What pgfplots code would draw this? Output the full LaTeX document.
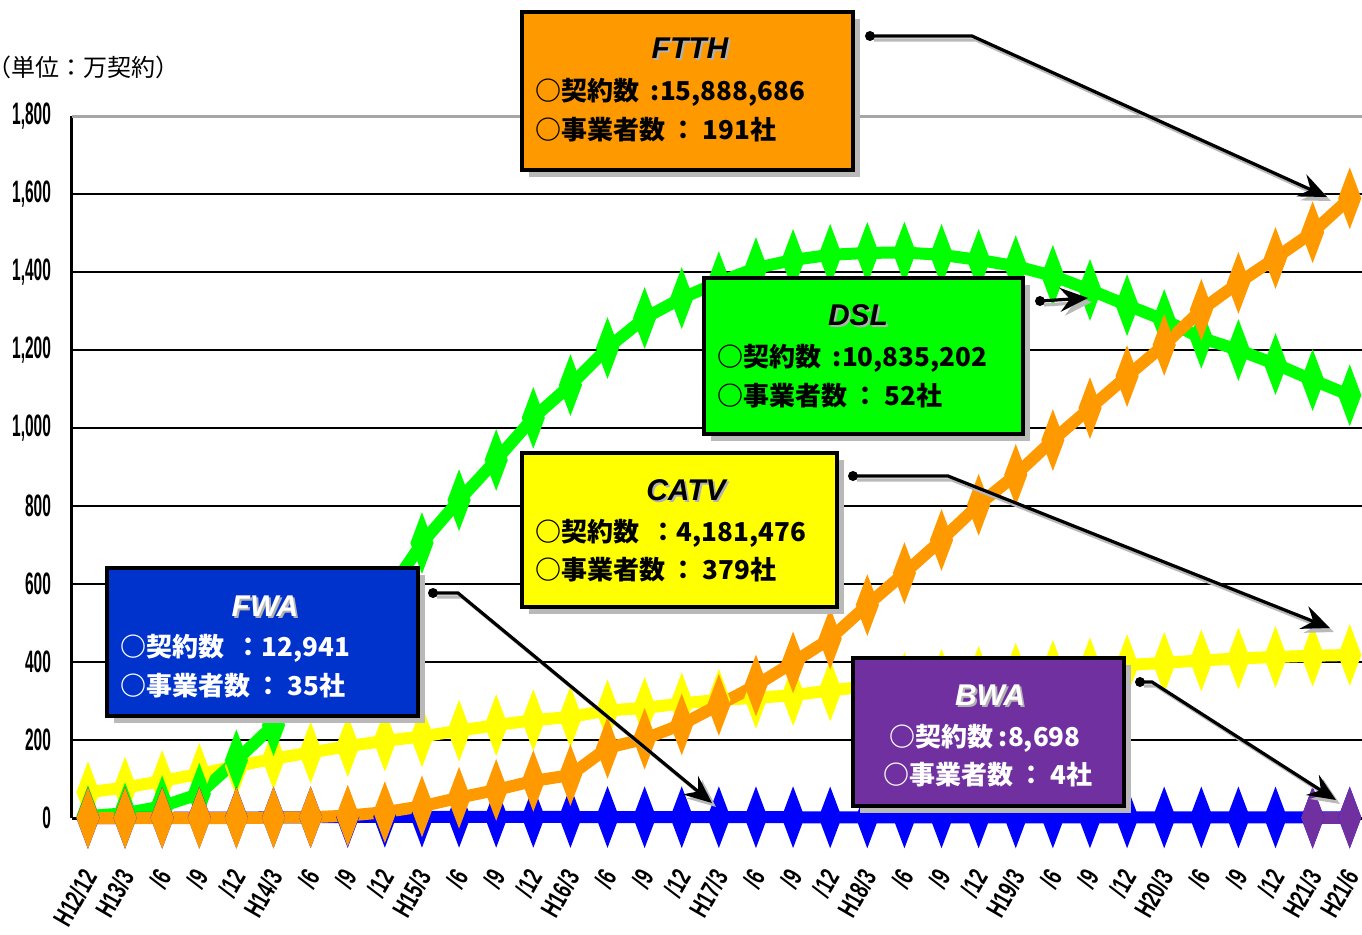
\documentclass[border=0pt]{standalone}
\usepackage{pgfplots}
\pgfplotsset{compat=1.18}
\usepackage{pgfplotstable}
\usepackage{fontspec}
\usetikzlibrary{arrows.meta}
\setmainfont{Liberation Sans}
\newfontfamily\cjk{Noto Sans CJK JP}

\definecolor{ftth}{HTML}{FF9900}
\definecolor{dsl}{HTML}{00FF00}
\definecolor{catv}{HTML}{FFFF00}
\definecolor{fwa}{HTML}{0000FF}
\definecolor{fwabox}{HTML}{0033CC}
\definecolor{bwa}{HTML}{7030A0}

% 万契約, quarterly H12/12 .. H21/6
\pgfplotstableread{
i  catv dsl  ftth fwa
0  66   5    0    0
1  78   12   0    0
2  95   30   0    0.5
3  113  62   0    1
4  133  148  0    1
5  152  238  1    1.5
6  168  330  2    2
7  184  452  6    2.5
8  198  565  15   3
9  209  705  30   3
10 224  815  52   3
11 238  918  72   3
12 251  1026 95   3
13 259  1110 110  2.5
14 276  1205 180  2.5
15 282  1282 203  2
16 294  1333 240  2
17 303  1374 290  2
18 308  1410 340  2
19 315  1431 399  2
20 327  1444 460  1.5
21 338  1449 546  1.5
22 346  1450 628  1.5
23 354  1444 713  1.5
24 362  1431 803  1.5
25 370  1415 880  1.5
26 377  1390 969  1.5
27 384  1354 1051 1.5
28 392  1315 1133 1.5
29 398  1277 1213 1.5
30 404  1231 1303 1.5
31 409  1200 1372 1.5
32 413  1164 1436 1.5
33 416  1123 1502 1.3
34 418  1084 1589 1.3
}\subs

\newcommand\xl[1]{\scalebox{0.68}[1]{#1}}
\newcommand\cbox[5]{%
  \fill[gray!55] (#2+7,#3+7) rectangle (#4+7,#5+7);
  \filldraw[fill=#1, draw=black, line width=2pt] (#2,#3) rectangle (#4,#5);}
\newcommand\ctitle[3]{%
  \node[font=\fontsize{15}{15}\selectfont\bfseries\itshape, text=gray!60] at (#1+2,#2+2) {#3};}
\newcommand\carrow[1]{%
  \draw[gray!55, line width=1.6pt, -{Stealth[length=14pt,width=12pt,inset=5pt]}, shift={(4,4)}] #1;
  \draw[black, line width=1.6pt, -{Stealth[length=14pt,width=12pt,inset=5pt]}] #1;}

\pgfplotsset{ser/.style={#1, line width=6pt, mark=diamond*, mark size=6.9pt,
  mark options={xscale=0.5, draw=none, fill=#1, solid}}}

\begin{document}
\begin{tikzpicture}
\begin{axis}[
  scale only axis, width=645pt, height=351pt,
  xmin=-0.43, xmax=34.33, ymin=0, ymax=1800,
  clip=false,
  axis x line*=bottom, axis y line*=left,
  axis line style={black, line width=1.5pt},
  ytick={0,200,...,1800},
  ymajorgrids, major grid style={black, line width=1.1pt},
  ytick style={draw=none},
  yticklabel={\scalebox{0.5}[1]{\pgfmathprintnumber[assume math mode=true,1000 sep={,}]{\tick}}},
  yticklabel style={font=\fontsize{15.5}{15.5}\selectfont\bfseries, anchor=east, xshift=-7pt},
  xtick={0,...,34},
  major x tick style={draw=none},
  minor xtick={0.5,1.5,...,33.5},
  minor x tick style={black, line width=1pt},
  minor tick length=3pt,
  xticklabels={\xl{H12/12},\xl{H13/3},\xl{/6},\xl{/9},\xl{/12},\xl{H14/3},\xl{/6},\xl{/9},\xl{/12},
    \xl{H15/3},\xl{/6},\xl{/9},\xl{/12},\xl{H16/3},\xl{/6},\xl{/9},\xl{/12},
    \xl{H17/3},\xl{/6},\xl{/9},\xl{/12},\xl{H18/3},\xl{/6},\xl{/9},\xl{/12},
    \xl{H19/3},\xl{/6},\xl{/9},\xl{/12},\xl{H20/3},\xl{/6},\xl{/9},\xl{/12},\xl{H21/3},\xl{H21/6}},
  xticklabel style={font=\fontsize{13.5}{13.5}\selectfont\bfseries, yshift=-27pt, xshift=1pt, rotate=60, anchor=east, inner sep=0pt},
]
\draw[gray!70, line width=1.5pt] (axis cs:-0.43,1800) -- (axis cs:34.33,1800);
\addplot[ser=catv] table[x=i, y=catv] {\subs};
\addplot[ser=dsl]  table[x=i, y=dsl]  {\subs};
\addplot[ser=fwa]  table[x=i, y=fwa]  {\subs};
\addplot[ser=ftth] table[x=i, y=ftth] {\subs};
\addplot[ser=bwa]  coordinates {(33,0.9) (34,0.9)};
\end{axis}

\begin{scope}[x=0.5pt, y=-0.5pt, shift={(-36pt,409pt)}]
\node[anchor=west, font=\cjk\fontsize{12}{12}\selectfont] at (-20,67) {（単位：万契約）};

% FTTH
\cbox{ftth}{522}{12}{853}{170}
\ctitle{690}{48}{FTTH}
\node[font=\fontsize{15}{15}\selectfont\bfseries\itshape] at (690,48) {FTTH};
\node[anchor=west, font=\cjk\bfseries\fontsize{13}{16}\selectfont] at (528,92) {○契約数\ \ :15,888,686};
\node[anchor=west, font=\cjk\bfseries\fontsize{13}{16}\selectfont] at (528,130) {○事業者数 ：\ 191社};

% DSL
\cbox{dsl}{704}{278}{1023}{434}
\ctitle{858}{315}{DSL}
\node[font=\fontsize{15}{15}\selectfont\bfseries\itshape] at (858,315) {DSL};
\node[anchor=west, font=\cjk\bfseries\fontsize{13}{16}\selectfont] at (710,358) {○契約数\ \ :10,835,202};
\node[anchor=west, font=\cjk\bfseries\fontsize{13}{16}\selectfont] at (710,396) {○事業者数 ：\ 52社};

% CATV
\cbox{catv}{522}{453}{837}{607}
\ctitle{686}{490}{CATV}
\node[font=\fontsize{15}{15}\selectfont\bfseries\itshape] at (686,490) {CATV};
\node[anchor=west, font=\cjk\bfseries\fontsize{13}{16}\selectfont] at (528,533) {○契約数\ \ ：4,181,476};
\node[anchor=west, font=\cjk\bfseries\fontsize{13}{16}\selectfont] at (528,570) {○事業者数 ：\ 379社};

% FWA
\cbox{fwabox}{107}{568}{418}{716}
\ctitle{265}{606}{FWA}
\node[text=white, font=\fontsize{15}{15}\selectfont\bfseries\itshape] at (265,606) {FWA};
\node[text=white, anchor=west, font=\cjk\bfseries\fontsize{13}{16}\selectfont] at (113,648) {○契約数\ \ ：12,941};
\node[text=white, anchor=west, font=\cjk\bfseries\fontsize{13}{16}\selectfont] at (113,686) {○事業者数 ：\ 35社};

% BWA
\cbox{bwa}{853}{658}{1124}{806}
\ctitle{990}{695}{BWA}
\node[text=white, font=\fontsize{15}{15}\selectfont\bfseries\itshape] at (990,695) {BWA};
\node[text=white, anchor=west, font=\cjk\bfseries\fontsize{13}{16}\selectfont] at (882,738) {○契約数\ :8,698};
\node[text=white, anchor=west, font=\cjk\bfseries\fontsize{13}{16}\selectfont] at (876,775) {○事業者数 ：\ 4社};

% pointers
\carrow{(870,36) -- (972,36) -- (1327,197)}
\carrow{(1040,301) -- (1088,298)}
\carrow{(853,476) -- (948,476) -- (1330,628)}
\carrow{(433,593) -- (458,593) -- (712,803)}
\carrow{(1140,682) -- (1152,682) -- (1336,800)}
\foreach \p in {(870,36),(1040,301),(853,476),(433,593),(1140,682)}
  \fill \p circle (2.5pt);
\end{scope}

\pgfresetboundingbox
\path[use as bounding box] (-36pt,-58pt) rectangle (645pt,409pt);
\end{tikzpicture}
\end{document}
